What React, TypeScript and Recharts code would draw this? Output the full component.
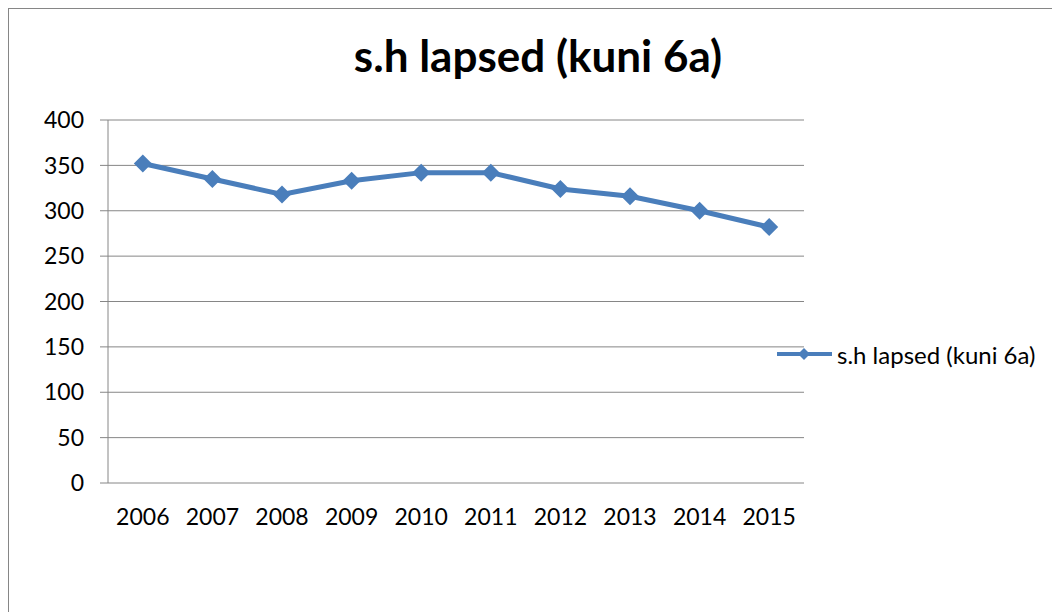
import { CartesianGrid, Legend, Line, LineChart, XAxis, YAxis } from "recharts";

const years = ["2006", "2007", "2008", "2009", "2010", "2011", "2012", "2013", "2014", "2015"];
const lapsed = [352, 335, 318, 333, 342, 342, 324, 316, 300, 282];
const yTicks = [0, 50, 100, 150, 200, 250, 300, 350, 400];
const boundaryTicks = [0, 1, 2, 3, 4, 5, 6, 7, 8, 9, 10];

const seriesName = "s.h lapsed (kuni 6a)";
const blue = "#4a7ebb";
const gray = "#868686";
const font = "Lato, 'Open Sans', sans-serif";

const data = years.map((year, i) => ({ year, slot: i + 0.5, lapsed: lapsed[i] }));

function Diamond(props: any) {
  const { cx, cy, index } = props;
  if (cx == null || cy == null) return null;
  const r = 9;
  return (
    <path
      key={`d-${index}`}
      d={`M${cx},${cy - r}L${cx + r},${cy}L${cx},${cy + r}L${cx - r},${cy}Z`}
      fill={blue}
    />
  );
}

function LegendBox() {
  return (
    <div style={{ display: "flex", alignItems: "center", height: 30, fontFamily: font, fontSize: 24, color: "#000", whiteSpace: "nowrap" }}>
      <svg width={56} height={16} style={{ marginRight: 4 }}>
        <line x1={0} y1={8} x2={55} y2={8} stroke={blue} strokeWidth={4} />
        <path d="M27,2L33,8L27,14L21,8Z" fill={blue} />
      </svg>
      <span>{seriesName}</span>
    </div>
  );
}

export default function App() {
  return (
    <div
      style={{
        position: "relative",
        width: 1060,
        height: 700,
        border: `1px solid ${gray}`,
        background: "#fff",
        fontFamily: font,
      }}
    >
      <div
        style={{
          position: "absolute",
          left: 0,
          width: 1058,
          top: 24,
          textAlign: "center",
          fontWeight: 700,
          fontSize: 44,
          lineHeight: 1,
          color: "#000",
        }}
      >
        {seriesName}
      </div>
      <LineChart
        width={1052}
        height={604}
        data={data}
        margin={{ top: 111, right: 257, bottom: 100, left: 0 }}
      >
        <CartesianGrid xAxisId="bounds" vertical={false} stroke={gray} />
        <XAxis
          xAxisId="bounds"
          type="number"
          dataKey="slot"
          domain={[0, years.length]}
          ticks={boundaryTicks}
          tick={false}
          tickSize={7}
          height={0}
          stroke={gray}
        />
        <XAxis
          xAxisId="cat"
          dataKey="year"
          interval={0}
          padding={{ left: 34.8, right: 34.8 }}
          axisLine={false}
          tickLine={false}
          tickSize={0}
          tickMargin={26}
          height={30}
          tick={{ fill: "#000", fontSize: 23, fontFamily: font }}
        />
        <YAxis
          domain={[0, 400]}
          ticks={yTicks}
          interval={0}
          width={99}
          tickSize={8}
          tickMargin={16}
          stroke={gray}
          tick={{ fill: "#000", fontSize: 23, fontFamily: font }}
        />
        <Legend
          layout="vertical"
          align="center"
          verticalAlign="middle"
          content={<LegendBox />}
          wrapperStyle={{ left: 768, top: 330, width: 290 }}
        />
        <Line
          xAxisId="cat"
          type="linear"
          dataKey="lapsed"
          name={seriesName}
          stroke={blue}
          strokeWidth={5}
          dot={Diamond}
          activeDot={false}
          isAnimationActive={false}
        />
      </LineChart>
    </div>
  );
}
